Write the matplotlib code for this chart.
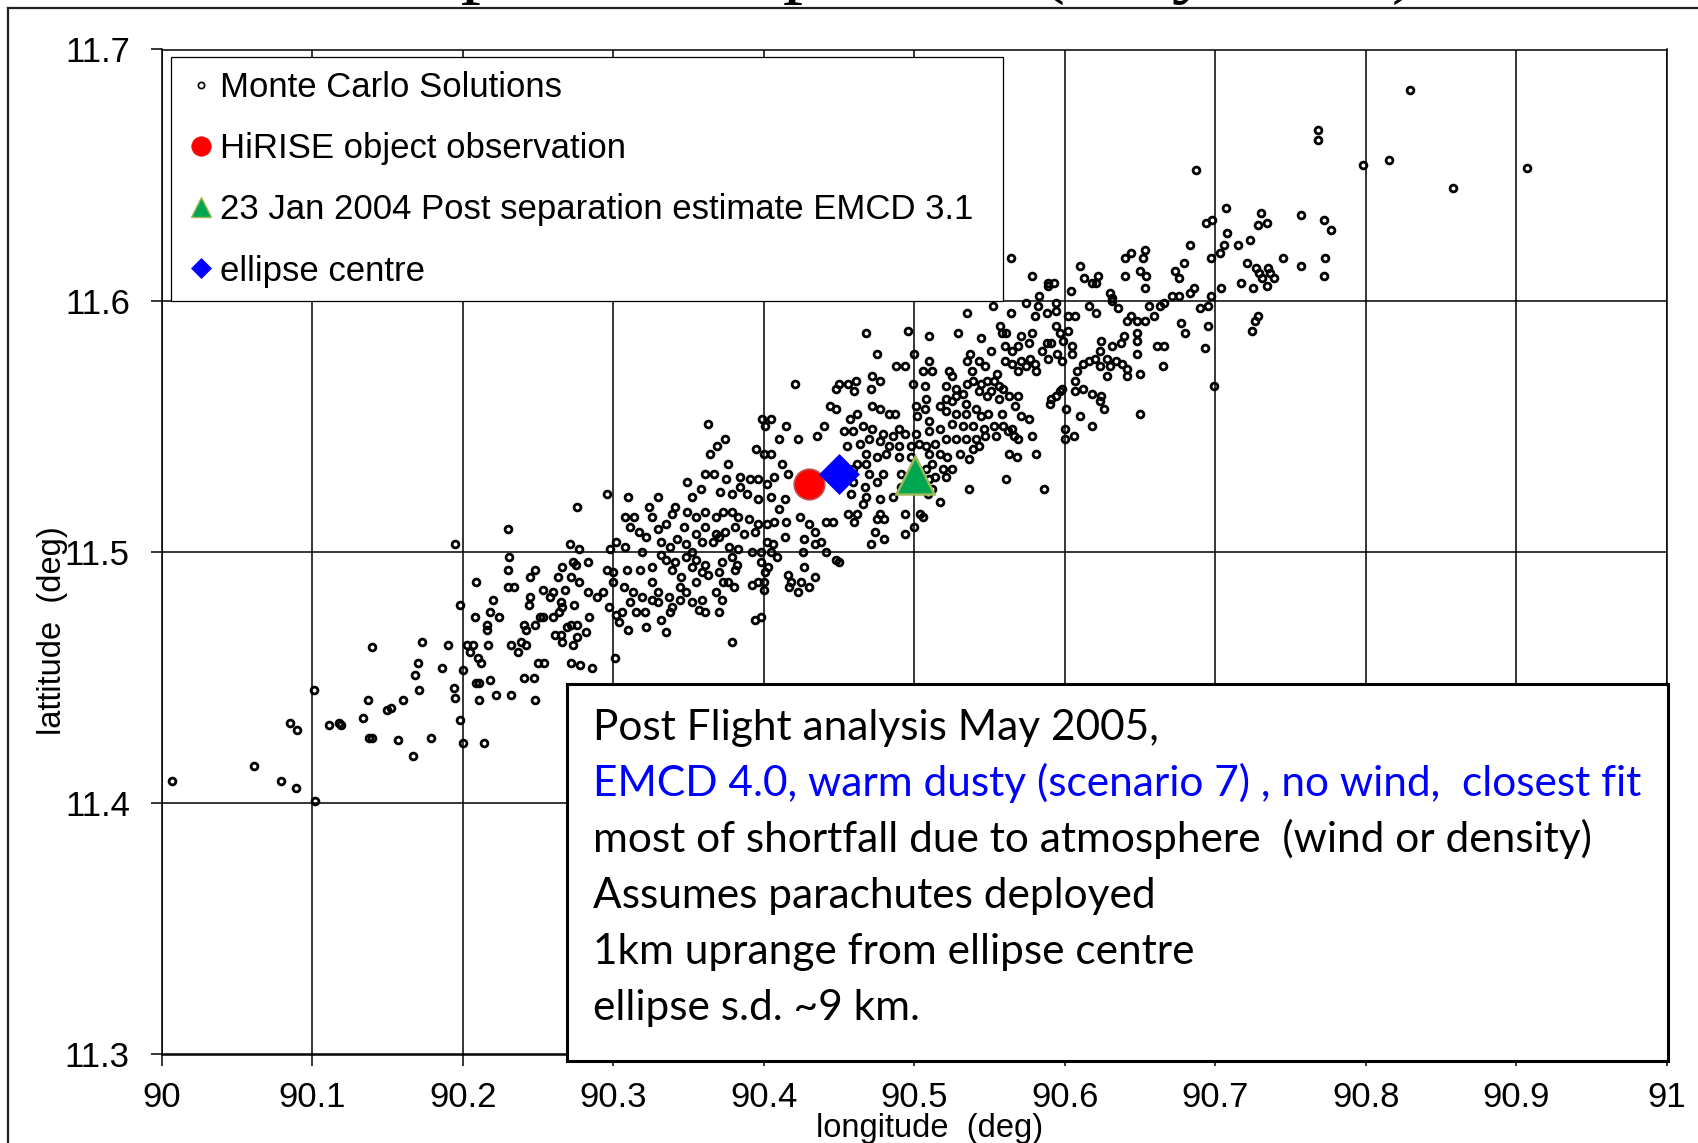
import numpy as np
import matplotlib
matplotlib.use("Agg")
import matplotlib.pyplot as plt
from matplotlib.lines import Line2D
from matplotlib.patches import Rectangle

plt.rcParams['font.family'] = ['Liberation Sans', 'DejaVu Sans']

# Monte Carlo solutions (longitude, latitude)
mc_west = [
    (90.007, 11.409), (90.061, 11.415), (90.079, 11.409), (90.089, 11.406), (90.102, 11.401),
    (90.101, 11.445), (90.085, 11.432), (90.090, 11.429), (90.111, 11.431), (90.118, 11.432),
    (90.119, 11.431), (90.137, 11.441), (90.134, 11.434), (90.138, 11.426), (90.140, 11.426),
    (90.150, 11.437), (90.152, 11.438), (90.160, 11.441), (90.140, 11.462), (90.157, 11.425),
    (90.167, 11.419), (90.179, 11.426), (90.173, 11.464), (90.170, 11.456), (90.168, 11.451),
    (90.171, 11.445), (90.186, 11.454), (90.190, 11.463), (90.194, 11.446), (90.195, 11.442),
    (90.198, 11.433), (90.200, 11.424), (90.214, 11.424), (90.200, 11.453), (90.198, 11.479),
    (90.195, 11.503), (90.230, 11.509), (90.231, 11.498), (90.230, 11.493), (90.230, 11.486),
    (90.234, 11.486), (90.209, 11.488), (90.220, 11.481), (90.208, 11.474), (90.218, 11.476),
    (90.224, 11.474), (90.216, 11.471), (90.216, 11.469), (90.203, 11.463), (90.207, 11.463),
    (90.205, 11.460), (90.210, 11.458), (90.212, 11.456), (90.217, 11.463), (90.209, 11.448),
    (90.211, 11.448), (90.218, 11.449), (90.211, 11.441), (90.222, 11.443), (90.232, 11.443),
    (90.232, 11.463), (90.237, 11.460), (90.239, 11.464), (90.242, 11.463), (90.241, 11.471),
    (90.242, 11.469), (90.248, 11.471), (90.251, 11.474), (90.253, 11.474), (90.244, 11.479),
    (90.245, 11.482), (90.245, 11.490), (90.248, 11.493), (90.253, 11.485), (90.258, 11.482),
    (90.260, 11.484), (90.263, 11.490), (90.266, 11.494), (90.268, 11.485), (90.271, 11.503),
    (90.277, 11.501), (90.276, 11.518), (90.273, 11.496), (90.275, 11.495), (90.272, 11.490),
    (90.277, 11.488), (90.265, 11.480), (90.266, 11.478), (90.274, 11.479), (90.260, 11.474),
    (90.264, 11.476), (90.269, 11.470), (90.272, 11.471), (90.276, 11.471), (90.261, 11.467),
    (90.265, 11.467), (90.266, 11.464), (90.273, 11.463), (90.276, 11.466), (90.250, 11.456),
    (90.254, 11.456), (90.241, 11.450), (90.247, 11.450), (90.248, 11.441), (90.272, 11.456),
    (90.278, 11.455), (90.283, 11.496), (90.283, 11.484), (90.284, 11.474), (90.282, 11.468),
    (90.286, 11.454),
]

mc_core = [
    (90.363, 11.551), (90.374, 11.545), (90.369, 11.542), (90.364, 11.539), (90.376, 11.535),
    (90.399, 11.553), (90.405, 11.553), (90.401, 11.550), (90.415, 11.550), (90.410, 11.545),
    (90.395, 11.541), (90.400, 11.539), (90.405, 11.539), (90.412, 11.535), (90.423, 11.545),
    (90.435, 11.546), (90.440, 11.550), (90.444, 11.558), (90.448, 11.557), (90.349, 11.528),
    (90.352, 11.522), (90.358, 11.525), (90.361, 11.531), (90.367, 11.531), (90.371, 11.524),
    (90.375, 11.529), (90.384, 11.530), (90.391, 11.529), (90.384, 11.526), (90.379, 11.523),
    (90.389, 11.523), (90.396, 11.529), (90.402, 11.527), (90.407, 11.530), (90.416, 11.531),
    (90.405, 11.522), (90.414, 11.521), (90.410, 11.517), (90.396, 11.521), (90.296, 11.523),
    (90.310, 11.522), (90.330, 11.522), (90.324, 11.518), (90.341, 11.518), (90.326, 11.514),
    (90.308, 11.514), (90.314, 11.514), (90.339, 11.515), (90.349, 11.516), (90.355, 11.514),
    (90.361, 11.516), (90.368, 11.514), (90.373, 11.516), (90.379, 11.516), (90.383, 11.514),
    (90.390, 11.513), (90.396, 11.511), (90.402, 11.511), (90.407, 11.512), (90.415, 11.512),
    (90.424, 11.514), (90.430, 11.511), (90.434, 11.508), (90.441, 11.512), (90.446, 11.512),
    (90.414, 11.506), (90.427, 11.505), (90.434, 11.503), (90.438, 11.504), (90.441, 11.500),
    (90.426, 11.500), (90.448, 11.497), (90.311, 11.510), (90.317, 11.508), (90.322, 11.506),
    (90.330, 11.509), (90.335, 11.511), (90.347, 11.510), (90.355, 11.507), (90.361, 11.510),
    (90.368, 11.507), (90.374, 11.508), (90.381, 11.510), (90.387, 11.507), (90.394, 11.508),
    (90.402, 11.504), (90.406, 11.503), (90.302, 11.504), (90.308, 11.502), (90.319, 11.500),
    (90.332, 11.504), (90.338, 11.502), (90.342, 11.505), (90.348, 11.503), (90.352, 11.500),
    (90.359, 11.504), (90.366, 11.504), (90.370, 11.506), (90.377, 11.502), (90.383, 11.501),
    (90.392, 11.500), (90.398, 11.500), (90.405, 11.500), (90.298, 11.501), (90.332, 11.499),
    (90.335, 11.497), (90.341, 11.496), (90.348, 11.498), (90.355, 11.497), (90.361, 11.495),
    (90.372, 11.496), (90.379, 11.498), (90.382, 11.495), (90.398, 11.496), (90.403, 11.494),
    (90.409, 11.498), (90.296, 11.493), (90.300, 11.492), (90.309, 11.493), (90.318, 11.493),
    (90.326, 11.494), (90.339, 11.493), (90.345, 11.490), (90.352, 11.494), (90.359, 11.492),
    (90.363, 11.491), (90.370, 11.492), (90.376, 11.488), (90.381, 11.493), (90.401, 11.492),
    (90.400, 11.488), (90.416, 11.491), (90.427, 11.494), (90.418, 11.488), (90.425, 11.488),
    (90.434, 11.490), (90.417, 11.486), (90.423, 11.484), (90.430, 11.486), (90.300, 11.488),
    (90.307, 11.486), (90.313, 11.484), (90.319, 11.482), (90.326, 11.488), (90.330, 11.484),
    (90.337, 11.482), (90.344, 11.486), (90.348, 11.484), (90.355, 11.488), (90.359, 11.481),
    (90.368, 11.484), (90.373, 11.488), (90.372, 11.481), (90.380, 11.486), (90.392, 11.487),
    (90.396, 11.488), (90.400, 11.485), (90.289, 11.482), (90.293, 11.484), (90.297, 11.478),
    (90.306, 11.476), (90.311, 11.480), (90.315, 11.476), (90.321, 11.476), (90.326, 11.481),
    (90.330, 11.480), (90.339, 11.478), (90.344, 11.481), (90.352, 11.480), (90.357, 11.477),
    (90.361, 11.476), (90.370, 11.476), (90.304, 11.472), (90.310, 11.469), (90.322, 11.470),
    (90.332, 11.473), (90.335, 11.468), (90.338, 11.476), (90.379, 11.464), (90.394, 11.473),
    (90.398, 11.474), (90.301, 11.458), (90.302, 11.475), (90.421, 11.567),
]

mc_north = [
    (90.468, 11.587), (90.496, 11.588), (90.510, 11.586), (90.529, 11.587), (90.535, 11.595),
    (90.552, 11.598), (90.564, 11.595), (90.574, 11.599), (90.580, 11.594), (90.582, 11.598),
    (90.588, 11.595), (90.594, 11.596), (90.594, 11.599), (90.602, 11.594), (90.607, 11.594),
    (90.616, 11.598), (90.621, 11.595), (90.631, 11.600), (90.635, 11.597), (90.641, 11.592),
    (90.644, 11.594), (90.648, 11.592), (90.656, 11.598), (90.663, 11.598), (90.666, 11.599),
    (90.653, 11.592), (90.659, 11.594), (90.677, 11.591), (90.680, 11.587), (90.648, 11.587),
    (90.648, 11.584), (90.648, 11.579), (90.661, 11.582), (90.666, 11.582), (90.665, 11.574),
    (90.650, 11.571), (90.639, 11.586), (90.637, 11.583), (90.631, 11.582), (90.624, 11.584),
    (90.623, 11.580), (90.620, 11.577), (90.628, 11.577), (90.634, 11.576), (90.638, 11.575),
    (90.623, 11.574), (90.630, 11.574), (90.641, 11.573), (90.628, 11.570), (90.641, 11.570),
    (90.616, 11.576), (90.612, 11.575), (90.608, 11.572), (90.607, 11.568), (90.612, 11.565),
    (90.605, 11.582), (90.605, 11.579), (90.602, 11.588), (90.597, 11.587), (90.599, 11.584),
    (90.594, 11.590), (90.591, 11.583), (90.595, 11.579), (90.598, 11.576), (90.589, 11.577),
    (90.585, 11.580), (90.588, 11.583), (90.578, 11.587), (90.571, 11.586), (90.576, 11.583),
    (90.569, 11.582), (90.565, 11.580), (90.560, 11.582), (90.558, 11.587), (90.557, 11.590),
    (90.561, 11.587), (90.560, 11.576), (90.565, 11.575), (90.571, 11.576), (90.577, 11.577),
    (90.580, 11.575), (90.574, 11.574), (90.569, 11.572), (90.581, 11.572), (90.544, 11.585),
    (90.551, 11.580), (90.537, 11.579), (90.543, 11.576), (90.535, 11.576), (90.547, 11.574),
    (90.538, 11.572), (90.555, 11.571), (90.553, 11.568), (90.556, 11.566), (90.559, 11.565),
    (90.548, 11.568), (90.544, 11.567), (90.539, 11.568), (90.535, 11.567), (90.543, 11.564),
    (90.548, 11.562), (90.551, 11.564), (90.523, 11.572), (90.525, 11.570), (90.528, 11.565),
    (90.532, 11.563), (90.521, 11.566), (90.528, 11.562), (90.521, 11.561), (90.510, 11.576),
    (90.512, 11.572), (90.506, 11.572), (90.500, 11.579), (90.494, 11.574), (90.488, 11.574),
    (90.499, 11.567), (90.507, 11.566), (90.475, 11.579), (90.472, 11.570), (90.477, 11.568),
    (90.471, 11.565), (90.461, 11.568), (90.456, 11.567), (90.450, 11.567), (90.448, 11.565),
    (90.460, 11.564), (90.591, 11.561), (90.597, 11.564), (90.569, 11.562), (90.563, 11.562),
    (90.556, 11.561), (90.457, 11.553), (90.462, 11.555), (90.472, 11.558), (90.477, 11.557),
    (90.483, 11.555), (90.487, 11.555), (90.490, 11.549), (90.501, 11.558), (90.508, 11.561),
    (90.507, 11.557), (90.502, 11.554), (90.510, 11.552), (90.517, 11.558), (90.521, 11.556),
    (90.525, 11.560), (90.528, 11.555), (90.534, 11.559), (90.534, 11.555), (90.541, 11.557),
    (90.544, 11.554), (90.549, 11.555), (90.558, 11.555), (90.567, 11.558), (90.571, 11.554),
    (90.576, 11.553), (90.559, 11.550), (90.553, 11.550), (90.546, 11.549), (90.539, 11.550),
    (90.532, 11.550), (90.525, 11.551), (90.517, 11.549), (90.510, 11.548), (90.501, 11.547),
    (90.494, 11.547), (90.486, 11.546), (90.479, 11.547), (90.472, 11.549), (90.466, 11.550),
    (90.459, 11.548), (90.453, 11.548), (90.455, 11.542), (90.464, 11.543), (90.470, 11.545),
    (90.477, 11.544), (90.483, 11.542), (90.490, 11.542), (90.498, 11.542), (90.503, 11.543),
    (90.508, 11.542), (90.514, 11.543), (90.521, 11.545), (90.528, 11.545), (90.534, 11.545),
    (90.541, 11.545), (90.547, 11.546), (90.554, 11.546), (90.562, 11.548), (90.566, 11.546),
    (90.569, 11.545), (90.565, 11.549), (90.468, 11.539), (90.475, 11.538), (90.481, 11.539),
    (90.490, 11.538), (90.498, 11.538), (90.510, 11.539), (90.517, 11.539), (90.522, 11.538),
    (90.530, 11.539), (90.536, 11.537), (90.543, 11.542), (90.539, 11.541), (90.563, 11.539),
    (90.568, 11.538), (90.581, 11.539), (90.468, 11.535), (90.459, 11.533), (90.456, 11.530),
    (90.462, 11.535), (90.470, 11.531), (90.479, 11.531), (90.512, 11.535), (90.519, 11.533),
    (90.525, 11.533), (90.514, 11.530), (90.521, 11.530), (90.508, 11.533), (90.510, 11.529),
    (90.491, 11.531), (90.536, 11.525), (90.561, 11.529), (90.586, 11.525), (90.517, 11.520),
    (90.509, 11.523), (90.467, 11.526), (90.475, 11.528), (90.459, 11.528), (90.458, 11.523),
    (90.468, 11.522), (90.477, 11.521), (90.462, 11.515), (90.456, 11.515), (90.477, 11.515),
    (90.480, 11.513), (90.475, 11.513), (90.494, 11.515), (90.504, 11.515), (90.506, 11.514),
    (90.500, 11.510), (90.494, 11.507), (90.474, 11.508), (90.480, 11.505), (90.471, 11.503),
    (90.450, 11.496), (90.460, 11.512), (90.466, 11.519), (90.486, 11.522), (90.491, 11.526),
    (90.512, 11.525), (90.598, 11.565), (90.594, 11.562), (90.590, 11.559), (90.601, 11.557),
    (90.607, 11.564), (90.618, 11.563), (90.624, 11.562), (90.626, 11.557), (90.623, 11.560),
    (90.610, 11.554), (90.618, 11.550), (90.650, 11.555), (90.600, 11.549), (90.600, 11.545),
    (90.606, 11.546), (90.578, 11.546),
]

mc_east = [
    (90.687, 11.652), (90.798, 11.654), (90.815, 11.656), (90.707, 11.637), (90.694, 11.631),
    (90.698, 11.632), (90.708, 11.627), (90.730, 11.635), (90.728, 11.630), (90.734, 11.631),
    (90.757, 11.634), (90.772, 11.632), (90.777, 11.628), (90.715, 11.622), (90.723, 11.624),
    (90.706, 11.622), (90.703, 11.619), (90.697, 11.617), (90.683, 11.622), (90.679, 11.615),
    (90.673, 11.612), (90.676, 11.609), (90.704, 11.605), (90.697, 11.602), (90.721, 11.615),
    (90.727, 11.613), (90.735, 11.613), (90.729, 11.611), (90.736, 11.611), (90.731, 11.609),
    (90.739, 11.609), (90.717, 11.607), (90.725, 11.605), (90.734, 11.606), (90.745, 11.617),
    (90.757, 11.614), (90.773, 11.617), (90.772, 11.610), (90.686, 11.605), (90.683, 11.603),
    (90.671, 11.602), (90.676, 11.602), (90.653, 11.620), (90.652, 11.617), (90.644, 11.619),
    (90.640, 11.617), (90.650, 11.612), (90.654, 11.610), (90.640, 11.610), (90.653, 11.605),
    (90.610, 11.614), (90.613, 11.609), (90.618, 11.607), (90.622, 11.610), (90.621, 11.607),
    (90.604, 11.604), (90.630, 11.603), (90.631, 11.601), (90.593, 11.607), (90.589, 11.607),
    (90.695, 11.598), (90.690, 11.597), (90.695, 11.590), (90.693, 11.581), (90.699, 11.566),
    (90.728, 11.594), (90.726, 11.592), (90.724, 11.588), (90.829, 11.684), (90.768, 11.668),
    (90.768, 11.664), (90.858, 11.645), (90.907, 11.653), (90.564, 11.617), (90.578, 11.610),
    (90.589, 11.606), (90.583, 11.602),
]

# single reference points
hirise_lon, hirise_lat = 90.430, 11.527
estimate_lon, estimate_lat = 90.5005, 11.5305
centre_lon, centre_lat = 90.450, 11.531

x_ticks = [90, 90.1, 90.2, 90.3, 90.4, 90.5, 90.6, 90.7, 90.8, 90.9, 91]
x_tick_labels = ['90', '90.1', '90.2', '90.3', '90.4', '90.5', '90.6', '90.7', '90.8', '90.9', '91']
y_ticks = [11.3, 11.4, 11.5, 11.6, 11.7]
y_tick_labels = ['11.3', '11.4', '11.5', '11.6', '11.7']

legend_labels = ['Monte Carlo Solutions', 'HiRISE object observation',
                 '23 Jan 2004 Post separation estimate EMCD 3.1', 'ellipse centre']

note_lines = ['Post Flight analysis May 2005,',
              'EMCD 4.0, warm dusty (scenario 7) , no wind,  closest fit',
              'most of shortfall due to atmosphere  (wind or density)',
              'Assumes parachutes deployed',
              '1km uprange from ellipse centre',
              'ellipse s.d. ~9 km.']
note_colors = ['black', '#0000ff', 'black', 'black', 'black', 'black']

W, H = 1698, 1143
fig = plt.figure(figsize=(W / 100, H / 100), dpi=100)
ax = fig.add_axes([161.7 / W, 1 - 1054.5 / H, 1505.3 / W, 1005 / H])

mc = np.array(mc_west + mc_core + mc_north + mc_east)
ax.plot(mc[:, 0], mc[:, 1], ls='none', marker='o', ms=4.9, mfc='none', mec='black', mew=2.0, zorder=3)
ax.plot(hirise_lon, hirise_lat, ls='none', marker='o', ms=22, mfc='#ff0000', mec='#c0504d', mew=1.2, zorder=4)
ax.plot(estimate_lon, estimate_lat, ls='none', marker='^', ms=28, mfc='#00a651', mec='#9bbb59', mew=1.8, zorder=4)
ax.plot(centre_lon, centre_lat, ls='none', marker='D', ms=20, mfc='#0000ff', mec='#0000ff', mew=0.5, zorder=5)

ax.set_xlim(90, 91)
ax.set_ylim(11.3, 11.7)
ax.set_xticks(x_ticks)
ax.set_xticklabels(x_tick_labels)
ax.set_yticks(y_ticks)
ax.set_yticklabels(y_tick_labels)
ax.tick_params(axis='both', labelsize=25, length=8, width=1.1, color='black')
ax.tick_params(axis='x', pad=11)
ax.tick_params(axis='y', pad=15)
ax.grid(True, color='black', lw=1.1)
ax.set_axisbelow(True)
for sp in ax.spines.values():
    sp.set_linewidth(1.1)
    sp.set_color('black')

# legend
handles = [
    Line2D([], [], ls='none', marker='o', ms=4.5, mfc='none', mec='black', mew=1.2),
    Line2D([], [], ls='none', marker='o', ms=14, mfc='#ff0000', mec='#ff0000', mew=0.5),
    Line2D([], [], ls='none', marker='^', ms=15, mfc='#00a651', mec='#9bbb59', mew=1.0),
    Line2D([], [], ls='none', marker='D', ms=10, mfc='#0000ff', mec='#0000ff', mew=0.5),
]
leg = ax.legend(handles, legend_labels, loc='upper left',
                bbox_to_anchor=(9.3 / 1505.3, 755.2 / 1005, 832 / 1505.3, 242 / 1005),
                mode='expand', borderaxespad=0, fontsize=25, borderpad=0.40,
                labelspacing=0.81, handlelength=0.92, handletextpad=0.08,
                fancybox=False, framealpha=1, edgecolor='black')
leg.get_frame().set_linewidth(0.9)
leg.set_zorder(6)

# annotation box
ax.add_patch(Rectangle((405.3 / 1505.3, -6.5 / 1005), 1101 / 1505.3, 377 / 1005,
                       transform=ax.transAxes, facecolor='white', edgecolor='black',
                       lw=2.2, clip_on=False, zorder=7))
for i, (line, col) in enumerate(zip(note_lines, note_colors)):
    fig.text(592.7 / W, 1 - (740 + 56 * i) / H, line, color=col, fontsize=30.5,
             family=['Lato', 'DejaVu Sans'], ha='left', va='baseline', zorder=8)

# axis labels
fig.text(52 / W, 1 - 631 / H, 'lattitude  (deg)', rotation=90, ha='center', va='center', fontsize=23.5)
fig.text(930 / W, 1 - 1137 / H, 'longitude  (deg)', ha='center', va='baseline', fontsize=23.5)

# slide title, mostly cut off at the top edge
fig.text(1418 / W, 1 + 11.5 / H, 'Touchdown point comparison (May 2005)', ha='right', va='baseline',
         fontsize=57.6, family=['Liberation Serif', 'DejaVu Serif'])

# slide frame lines
fig.add_artist(Line2D([7.5 / W, 1], [1 - 8.3 / H, 1 - 8.3 / H], transform=fig.transFigure, color='#222222', lw=1.6))
fig.add_artist(Line2D([7.5 / W, 7.5 / W], [0, 1 - 8.3 / H], transform=fig.transFigure, color='#222222', lw=1.6))

fig.savefig('out.png', dpi=100)
